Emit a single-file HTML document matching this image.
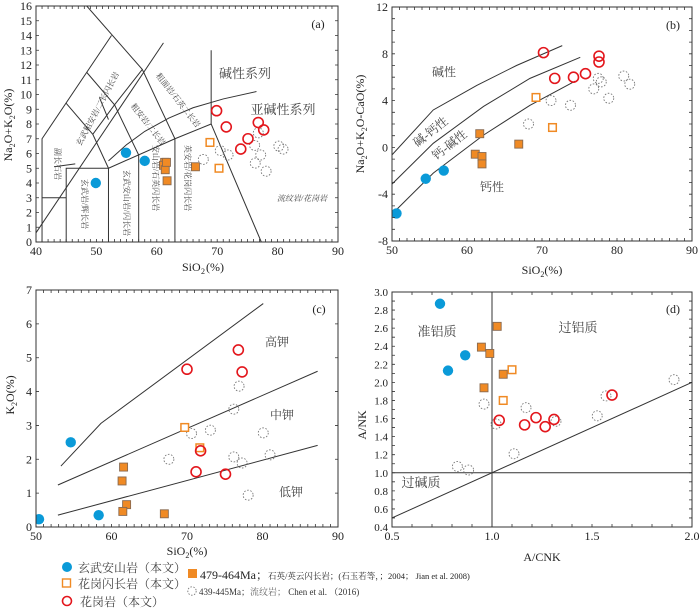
<!DOCTYPE html>
<html><head><meta charset="utf-8"><style>
body{margin:0;background:#fff;}
svg text{font-family:"Liberation Serif","Noto Serif CJK SC","Noto Sans CJK SC",serif;}
</style></head><body>
<svg id="fig" width="700" height="608" viewBox="0 0 700 608" xmlns="http://www.w3.org/2000/svg"></svg>
<script>
// ---------- Panel (a) TAS data ----------
const aBlueX=[49.9,54.9,58.0], aBlueY=[4.0,6.05,5.5];
const aOrangeFX=[61.3,61.1,61.4,61.7,61.6,66.4], aOrangeFY=[5.4,5.2,4.9,4.15,5.4,5.1];
const aOrangeOX=[68.8,70.3], aOrangeOY=[6.75,5.0];
const aRedX=[69.9,71.5,73.9,75.1,76.8,77.7], aRedY=[8.9,7.8,6.3,7.0,8.1,7.6];
const aDashX=[67.7,70.5,71.8,76.2,77.2,76.3,78.1,76.8,80.2,80.9], aDashY=[5.6,6.2,5.9,6.55,5.9,5.35,4.8,7.4,6.5,6.3];
const aXTicks=[40,50,60,70,80,90], aYTicks=[0,1,2,3,4,5,6,7,8,9,10,11,12,13,14,15,16];
// ---------- Panel (b) ----------
const bBlueX=[50.6,54.5,56.9], bBlueY=[-5.64,-2.68,-1.98];
const bOrangeFX=[61.7,61.1,62.0,62.0,66.9], bOrangeFY=[1.17,-0.58,-0.78,-1.41,0.28];
const bOrangeOX=[69.2,71.4], bOrangeOY=[4.27,1.7];
const bRedX=[70.2,71.7,74.2,75.8,77.6,77.6], bRedY=[8.1,5.9,6.0,6.3,7.8,7.3];
const bDashX=[68.2,71.2,73.8,76.9,77.9,77.5,78.9,80.9,81.7], bDashY=[2.0,4.0,3.6,5.0,5.6,5.9,4.2,6.1,5.4];
const bXTicks=[50,60,70,80,90], bYTicks=[-8,-4,0,4,8,12];
// ---------- Panel (c) ----------
const cBlueX=[50.4,54.6,58.3], cBlueY=[0.23,2.5,0.35];
const cOrangeFX=[61.6,61.4,62.0,61.5,67.0], cOrangeFY=[1.77,1.36,0.66,0.46,0.39];
const cOrangeOX=[69.7,71.7], cOrangeOY=[2.94,2.34];
const cRedX=[70.0,76.8,77.3,71.8,71.2,75.1], cRedY=[4.66,5.23,4.58,2.25,1.63,1.56];
const cDashX=[67.6,70.6,73.1,76.9,76.2,76.2,77.3,78.1,80.1,81.0], cDashY=[2.0,2.76,2.86,4.16,3.48,2.07,1.89,0.94,2.78,2.13];
const cXTicks=[50,60,70,80,90], cYTicks=[0,1,2,3,4,5,6,7];
// ---------- Panel (d) ----------
const dBlueX=[0.74,0.78,0.866], dBlueY=[2.87,2.13,2.30];
const dOrangeFX=[1.026,0.947,0.989,1.056,0.96], dOrangeFY=[2.62,2.39,2.32,2.09,1.94];
const dOrangeOX=[1.10,1.056], dOrangeOY=[2.14,1.80];
const dRedX=[1.036,1.163,1.22,1.266,1.31,1.60], dRedY=[1.58,1.53,1.61,1.51,1.59,1.86];
const dDashX=[0.96,1.02,1.17,1.11,0.827,0.883,1.32,1.526,1.57,1.91], dDashY=[1.76,1.54,1.72,1.21,1.07,1.03,1.57,1.63,1.85,2.03];
const dXTicks=[0.5,1.0,1.5,2.0], dYTicks=[0.4,0.6,0.8,1.0,1.2,1.4,1.6,1.8,2.0,2.2,2.4,2.6,2.8,3.0];

const NS="http://www.w3.org/2000/svg";
const svg=document.getElementById('fig');
function mk(tag,attrs,parent){const e=document.createElementNS(NS,tag);for(const k in attrs)e.setAttribute(k,attrs[k]);(parent||svg).appendChild(e);return e;}
function txt(s,x,y,size,attrs,parent){const e=mk('text',Object.assign({x:x,y:y,'font-size':size},attrs||{}),parent);e.textContent=s;return e;}

function panel(name,box,xd,yd){
  const g=mk('g',{});
  
  
  const p={g:g,box:box,xd:xd,yd:yd,
    sx:v=>box[0]+(v-xd[0])/(xd[1]-xd[0])*(box[2]-box[0]),
    sy:v=>box[3]-(v-yd[0])/(yd[1]-yd[0])*(box[3]-box[1])};
  const clip=mk('clipPath',{id:'clip-'+name},g);
  mk('rect',{x:box[0],y:box[1],width:box[2]-box[0],height:box[3]-box[1]},clip);
  p.inner=mk('g',{'clip-path':'url(#clip-'+name+')'},g);
  return p;
}
function frame(p,xticks,yticks,xminor,yminor,fmt){
  const [x0,y0,x1,y1]=p.box;
  const r=mk('rect',{x:x0,y:y0,width:x1-x0,height:y1-y0,fill:'none',stroke:'#333','stroke-width':1},p.g);
  
  
  let d='';
  for(let v=p.xd[0];v<=p.xd[1]+1e-9;v+=xminor){const X=p.sx(v);d+=`M${X},${y1}v-3M${X},${y0}v3`;}
  for(let v=p.yd[0];v<=p.yd[1]+1e-9;v+=yminor){const Y=p.sy(v);d+=`M${x0},${Y}h3M${x1},${Y}h-3`;}
  mk('path',{d:d,stroke:'#333','stroke-width':0.8,fill:'none'},p.g);
  const xg=mk('g',{},p.g);
  
  
  xticks.forEach(v=>{txt(fmt?v.toFixed(1):String(v),p.sx(v),y1+13,12,{'text-anchor':'middle',fill:'#222'},xg);});
  const yg=mk('g',{},p.g);
  
  
  yticks.forEach(v=>{txt(fmt?v.toFixed(1):String(v),x0-4,p.sy(v)+4,fmt?11:12,{'text-anchor':'end',fill:'#222'},yg);});
}
function line(p,pts,w){
  const d=pts.map((q,i)=>(i?'L':'M')+p.sx(q[0])+','+p.sy(q[1])).join('');
  const e=mk('path',{d:d,fill:'none',stroke:w&&w.c||'#333','stroke-width':w&&w.w||1},p.inner);
  
  
}
function series(p,xs,ys,kind){
  const g=mk('g',{},p.inner);
  
  
  xs.forEach((xv,i)=>{
    const X=p.sx(xv),Y=p.sy(ys[i]);let e;
    if(kind==='dash') e=mk('circle',{cx:X,cy:Y,r:5,fill:'none',stroke:'#777','stroke-width':0.9,'stroke-dasharray':'1.6,1.6'},g);
    else if(kind==='blue') e=mk('circle',{cx:X,cy:Y,r:5.2,fill:'#0a9ad8'},g);
    else if(kind==='red') e=mk('circle',{cx:X,cy:Y,r:5,fill:'none',stroke:'#e3161c','stroke-width':1.6},g);
    else if(kind==='orangeF') e=mk('rect',{x:X-4,y:Y-4,width:8,height:8,fill:'#f08a24',stroke:'#8a6a50','stroke-width':0.9},g);
    else e=mk('rect',{x:X-3.8,y:Y-3.8,width:7.6,height:7.6,fill:'#fff',stroke:'#f08a24','stroke-width':1.5},g);
    
    
  });
}
function allSeries(p,B,OF,OO,R,D){
  series(p,D[0],D[1],'dash');series(p,B[0],B[1],'blue');series(p,OF[0],OF[1],'orangeF');
  series(p,OO[0],OO[1],'orangeO');series(p,R[0],R[1],'red');
}
function lbl(s,x,y,size,rot,extra,parent){
  const e=txt(s,x,y,size,Object.assign({fill:'#444','text-anchor':'middle'},extra||{}),parent||svg);
  if(rot)e.setAttribute('transform',`rotate(${rot},${x},${y})`);
  
  
  return e;
}

// ===== Panel a =====
const pa=panel('tas-panel-a',[36,6,338,242],[40,90],[0,16]);
[[[41,0],[41,7],[52.5,14]],[[41,3],[45,3]],[[45,0],[45,5],[52,5],[52,0]],
 [[48.4,16],[57.6,11.7],[63,7],[63,0]],[[52,5],[63,7],[69,8]],[[57,0],[57,5.9]],
 [[45,9.4],[49.4,7.3],[52,5]],[[48.4,11.5],[53,9.3],[57,5.9]],[[49.4,7.3],[53,9.3],[57.6,11.7]],
 [[69,13],[69,8],[77.3,0]],[[39.8,0.5],[61.1,13.5]],
 [[52,5.5],[55,6.6],[58,7.5],[62,8.4],[66,9.1],[71,9.7],[76.5,10.2]],
 [[43,5.1],[46.5,5.3]],[[50.5,9.8],[52,8.3]]].forEach(l=>line(pa,l));
frame(pa,aXTicks,aYTicks,1,1);
allSeries(pa,[aBlueX,aBlueY],[aOrangeFX,aOrangeFY],[aOrangeOX,aOrangeOY],[aRedX,aRedY],[aDashX,aDashY]);
lbl('(a)',318,28,12,0,{fill:'#222'});
lbl('碱性系列',245,78,13);
lbl('亚碱性系列',283,114,13);
lbl('流纹岩/花岗岩',302,201,8,0,{'font-style':'italic'});
lbl('粗面岩/石英二长岩',176,102,8,52);
lbl('粗安岩/二长岩',146,126,8,52);
lbl('玄武粗安岩/二长闪长岩',100,110,8,-62);
lbl('玄武岩/辉长岩',82,204,8,90);
lbl('玄武安山岩/闪长岩',124,203,8,90);
lbl('安山岩/石英闪长岩',153,178,8,90);
lbl('英安岩/花岗闪长岩',185,178,8,90);
lbl('副长石岩',55,164,8,90);
txt('SiO',182,271,12,{fill:'#222'});
txt('2',201,274,8,{fill:'#222'});txt('(%)',206,271,12,{fill:'#222'});
const ya=txt('',12,125,12,{fill:'#222','text-anchor':'middle',transform:'rotate(-90,12,125)'});
ya.innerHTML='Na<tspan font-size="8" dy="3">2</tspan><tspan dy="-3">O+K</tspan><tspan font-size="8" dy="3">2</tspan><tspan dy="-3">O(%)</tspan>';


// ===== Panel b =====
const pb=panel('maly-panel-b',[392,7,692,241],[50,90],[-8,12]);
line(pb,[[50,-0.64],[55.5,3.2],[61.3,5.3],[66.6,7.0],[72.7,8.7]]);
line(pb,[[50,-3.14],[55.5,0.35],[62.2,3.5],[68.4,5.9],[75.1,7.7]]);
line(pb,[[50,-5.7],[55.5,-2.2],[62.2,1.05],[68.4,3.6],[74.4,5.66]]);
frame(pb,bXTicks,bYTicks,1,1);
allSeries(pb,[bBlueX,bBlueY],[bOrangeFX,bOrangeFY],[bOrangeOX,bOrangeOY],[bRedX,bRedY],[bDashX,bDashY]);
lbl('(b)',673,29,12,0,{fill:'#222'});
lbl('碱性',444,76,12);
lbl('碱-钙性',433,135,12,-38);
lbl('钙-碱性',452,148,12,-38);
lbl('钙性',492,191,12);
const xb=txt('',542,274,12,{fill:'#222','text-anchor':'middle'});
xb.innerHTML='SiO<tspan font-size="8" dy="3">2</tspan><tspan dy="-3">(%)</tspan>';

const yb=txt('',364,124,12,{fill:'#222','text-anchor':'middle',transform:'rotate(-90,364,124)'});
yb.innerHTML='Na<tspan font-size="8" dy="3">2</tspan><tspan dy="-3">O+K</tspan><tspan font-size="8" dy="3">2</tspan><tspan dy="-3">O-CaO(%)</tspan>';


// ===== Panel c =====
const pc=panel('k2o-panel-c',[36,290,338,527],[50,90],[0,7]);
line(pc,[[53.3,1.80],[58.6,3.06],[80.1,6.6]]);
line(pc,[[52.9,1.24],[87.3,4.6]]);
line(pc,[[52.9,0.35],[87.3,2.41]]);
frame(pc,cXTicks,cYTicks,1,1);
allSeries(pc,[cBlueX,cBlueY],[cOrangeFX,cOrangeFY],[cOrangeOX,cOrangeOY],[cRedX,cRedY],[cDashX,cDashY]);
lbl('(c)',319,313,12,0,{fill:'#222'});
lbl('高钾',277,346,12);lbl('中钾',282,419,12);lbl('低钾',291,496,12);
const xc=txt('',187,555,12,{fill:'#222','text-anchor':'middle'});
xc.innerHTML='SiO<tspan font-size="8" dy="3">2</tspan><tspan dy="-3">(%)</tspan>';

const yc=txt('',14,395,12,{fill:'#222','text-anchor':'middle',transform:'rotate(-90,14,395)'});
yc.innerHTML='K<tspan font-size="8" dy="3">2</tspan><tspan dy="-3">O(%)</tspan>';


// ===== Panel d =====
const pd=panel('shand-panel-d',[392,292,692,527],[0.5,2.0],[0.4,3.0]);
line(pd,[[1,0.4],[1,3.0]]);line(pd,[[0.5,1],[2,1]]);line(pd,[[0.5,0.5],[2,2]]);
frame(pd,dXTicks,dYTicks,0.1,0.1,true);
allSeries(pd,[dBlueX,dBlueY],[dOrangeFX,dOrangeFY],[dOrangeOX,dOrangeOY],[dRedX,dRedY],[dDashX,dDashY]);
lbl('(d)',673,313,12,0,{fill:'#222'});
lbl('准铝质',437,336,13);lbl('过铝质',578,332,13);lbl('过碱质',421,487,13);
lbl('A/CNK',542,561,12,0,{fill:'#222'});
lbl('A/NK',366,425,12,-90,{fill:'#222'});

// ===== Legend =====
const lg=mk('g',{});


mk('circle',{cx:67,cy:567,r:5,fill:'#0a9ad8'},lg);
txt('玄武安山岩（本文）',78,572,12,{fill:'#444'},lg);
mk('rect',{x:62.5,y:579,width:8,height:8,fill:'#fff',stroke:'#f08a24','stroke-width':1.4},lg);
txt('花岗闪长岩（本文）',78,588,12,{fill:'#444'},lg);
mk('circle',{cx:67,cy:601,r:4.5,fill:'none',stroke:'#e3161c','stroke-width':1.6},lg);
txt('花岗岩（本文）',80,606,12,{fill:'#444'},lg);
mk('rect',{x:188,y:569,width:9,height:9,fill:'#f08a24'},lg);
const t1=txt('',200,579,12,{fill:'#222'},lg);
t1.innerHTML='479-464Ma；<tspan font-size="8.5">石英/英云闪长岩；(石玉若等，；2004；  Jian et al. 2008)</tspan>';
mk('circle',{cx:192,cy:591,r:4.2,fill:'none',stroke:'#777','stroke-width':0.9,'stroke-dasharray':'1.5,1.5'},lg);
const t2=txt('',199,595,9,{fill:'#333'},lg);
t2.innerHTML='439-445Ma；<tspan fill="#666">流纹岩；</tspan>  Chen et al. （2016)';
</script>
</body></html>
